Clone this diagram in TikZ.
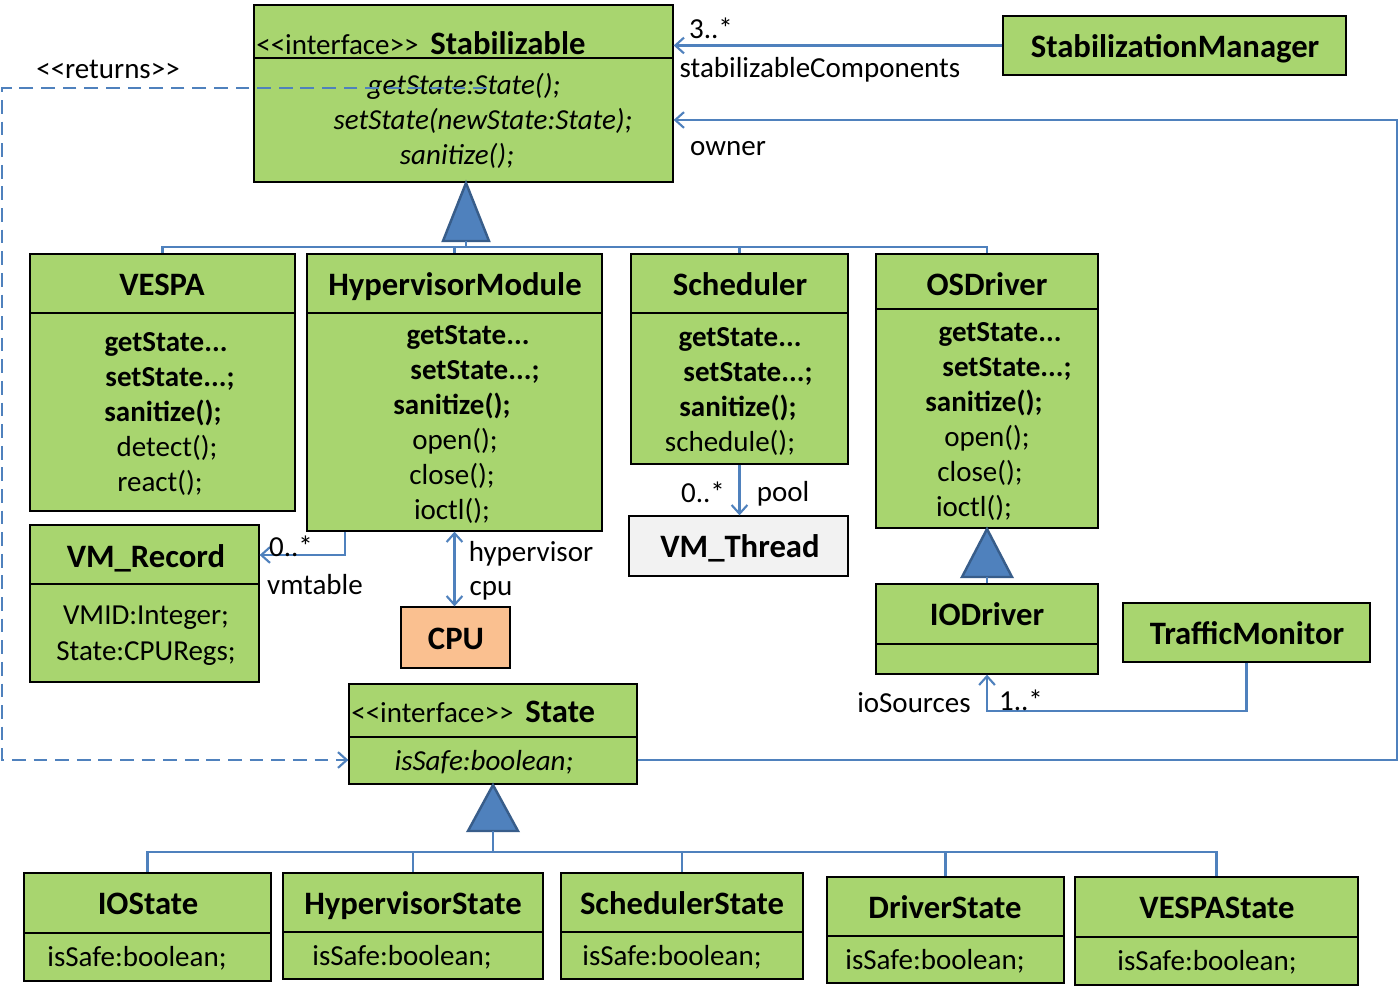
\documentclass[tikz,border=0pt]{standalone}
\usepackage{fontspec}
\setmainfont{Carlito}
\usetikzlibrary{arrows.meta,fit}
\definecolor{ugreen}{RGB}{168,213,111}
\definecolor{ublue}{RGB}{79,129,189}
\definecolor{udark}{RGB}{56,93,138}
\definecolor{uorange}{RGB}{250,192,144}
\definecolor{ugray}{RGB}{242,242,242}
\newcommand\bodyfont{\fontsize{16.5}{19.8}\selectfont}
\newcommand\titlefont{\fontsize{18.6}{22}\selectfont\bfseries}
\newcommand\umlbox[6][]{\node[box,#1,fit={(#3,#4)(#5,#6)}] (#2) {};}
\tikzset{
 box/.style={draw=black, line width=0.75pt, fill=ugreen, inner sep=0pt},
 divline/.style={draw=black, line width=0.75pt},
 body/.style={inner sep=0pt, anchor=base, font=\bodyfont, yshift=-1.1pt},
 bodyb/.style={body, font=\bodyfont\bfseries},
 bodyi/.style={body, font=\bodyfont\itshape},
 ttl/.style={inner sep=0pt, anchor=base, font=\titlefont, yshift=-0.6pt},
 lbl/.style={inner sep=0pt, font=\bodyfont, yshift=-1.3pt},
 conn/.style={draw=ublue, line width=1.2pt},
 assoc/.style={conn, -{Straight Barb[length=5pt,width=9pt]}},
 assocboth/.style={conn, {Straight Barb[length=5pt,width=9pt]}-{Straight Barb[length=5pt,width=9pt]}},
 dassoc/.style={assoc, dash pattern=on 7.8pt off 4.5pt},
 gentri/.style={fill=ublue, draw=udark, line width=1.4pt, line join=miter},
}
\begin{document}
\begin{tikzpicture}[x=0.02cm,y=-0.02cm]
\useasboundingbox (0,0) rectangle (1399,996);
\fill[white] (0,0) rectangle (1399,996);

% ---------- Stabilizable ----------
\umlbox{stab}{254}{5}{673}{182}
\draw[divline] (254,58) -- (673,58);
\node[body, anchor=base west] (stabT) at (256,53) {<{}<interface>{}>\hspace{6.8pt}{\titlefont Stabilizable}};
\node[bodyi] (stabM1) at (464,93) {getState:State();};
\node[bodyi] (stabM2) at (483,128) {setState(newState:State);};
\node[bodyi] (stabM3) at (457,163) {sanitize();};

% ---------- StabilizationManager ----------
\umlbox{mgr}{1003}{16}{1346}{75}
\node[ttl] (mgrT) at (1175,56) {StabilizationManager};

% ---------- VESPA ----------
\umlbox{vespa}{30}{254}{295}{511}
\draw[divline] (30,313) -- (295,313);
\node[ttl] (vespaT) at (162,294) {VESPA};
\node[bodyb] (vespaM1) at (166,350) {getState...};
\node[bodyb] (vespaM2) at (170,385) {setState...;};
\node[bodyb] (vespaM3) at (163,420) {sanitize();};
\node[body] (vespaM4) at (167,455) {detect();};
\node[body] (vespaM5) at (160,490) {react();};

% ---------- HypervisorModule ----------
\umlbox{hyp}{307}{254}{602}{531}
\draw[divline] (307,313) -- (602,313);
\node[ttl] (hypT) at (455,294) {HypervisorModule};
\node[bodyb] (hypM1) at (468,343) {getState...};
\node[bodyb] (hypM2) at (475,378) {setState...;};
\node[bodyb] (hypM3) at (452,413) {sanitize();};
\node[body] (hypM4) at (455,448) {open();};
\node[body] (hypM5) at (452,483) {close();};
\node[body] (hypM6) at (452,518) {ioctl();};

% ---------- Scheduler ----------
\umlbox{sched}{631}{254}{848}{464}
\draw[divline] (631,313) -- (848,313);
\node[ttl] (schedT) at (740,294) {Scheduler};
\node[bodyb] (schedM1) at (740,345) {getState...};
\node[bodyb] (schedM2) at (748,380) {setState...;};
\node[bodyb] (schedM3) at (738,415) {sanitize();};
\node[body] (schedM4) at (730,450) {schedule();};

% ---------- OSDriver ----------
\umlbox{osd}{876}{254}{1098}{528}
\draw[divline] (876,309) -- (1098,309);
\node[ttl] (osdT) at (987,294) {OSDriver};
\node[bodyb] (osdM1) at (1000,340) {getState...};
\node[bodyb] (osdM2) at (1007,375) {setState...;};
\node[bodyb] (osdM3) at (984,410) {sanitize();};
\node[body] (osdM4) at (987,445) {open();};
\node[body] (osdM5) at (980,480) {close();};
\node[body] (osdM6) at (974,515) {ioctl();};

% ---------- VM_Thread ----------
\umlbox[fill=ugray]{vmt}{629}{516}{848}{576}
\node[ttl] (vmtT) at (740,556) {VM\_Thread};

% ---------- VM_Record ----------
\umlbox{vmr}{30}{525}{259}{682}
\draw[divline] (30,584) -- (259,584);
\node[ttl] (vmrT) at (146,566) {VM\_Record};
\node[body] (vmrA1) at (146,623) {VMID:Integer;};
\node[body] (vmrA2) at (146,659) {State:CPURegs;};

% ---------- CPU ----------
\umlbox[fill=uorange]{cpu}{401}{607}{510}{668}
\node[ttl] (cpuT) at (456,648) {CPU};

% ---------- IODriver ----------
\umlbox{iod}{876}{584}{1098}{674}
\draw[divline] (876,644) -- (1098,644);
\node[ttl] (iodT) at (987,624) {IODriver};

% ---------- TrafficMonitor ----------
\umlbox{tm}{1123}{603}{1370}{662}
\node[ttl] (tmT) at (1247,643) {TrafficMonitor};

% ---------- State ----------
\umlbox{state}{349}{684}{637}{784}
\draw[divline] (349,737) -- (637,737);
\node[body, anchor=base west] (stateT) at (351,721) {<{}<interface>{}>\hspace{6.8pt}{\titlefont State}};
\node[bodyi] (stateA) at (484,769) {isSafe:boolean;};

% ---------- bottom state classes ----------
\umlbox{ios}{24}{873}{271}{981}
\draw[divline] (24,933) -- (271,933);
\node[ttl] (iosT) at (148,913) {IOState};
\node[body] (iosA) at (137,965) {isSafe:boolean;};

\umlbox{hys}{283}{873}{543}{979}
\draw[divline] (283,932) -- (543,932);
\node[ttl] (hysT) at (413,913) {HypervisorState};
\node[body] (hysA) at (402,964) {isSafe:boolean;};

\umlbox{scs}{561}{873}{803}{979}
\draw[divline] (561,932) -- (803,932);
\node[ttl] (scsT) at (682,913) {SchedulerState};
\node[body] (scsA) at (672,964) {isSafe:boolean;};

\umlbox{drs}{827}{877}{1064}{983}
\draw[divline] (827,936) -- (1064,936);
\node[ttl] (drsT) at (945,917) {DriverState};
\node[body] (drsA) at (935,968) {isSafe:boolean;};

\umlbox{ves}{1075}{877}{1358}{985}
\draw[divline] (1075,937) -- (1358,937);
\node[ttl] (vesT) at (1217,917) {VESPAState};
\node[body] (vesA) at (1207,969) {isSafe:boolean;};

% ---------- generalizations ----------
\draw[gentri] (466,183) -- (489,241) -- (443,241) -- cycle;
\coordinate (g1) at (466,247);
\draw[conn] (466,241) -- (g1);
\draw[conn] (g1) -| (vespa.north);
\draw[conn] (g1) -| (hyp.north);
\draw[conn] (g1) -| (sched.north);
\draw[conn] (g1) -| (osd.north);

\draw[gentri] (493,785) -- (518,831) -- (468,831) -- cycle;
\coordinate (g2) at (493,852);
\draw[conn] (493,831) -- (g2);
\draw[conn] (g2) -| (ios.north);
\draw[conn] (g2) -| (hys.north);
\draw[conn] (g2) -| (scs.north);
\draw[conn] (g2) -| (drs.north);
\draw[conn] (g2) -| (ves.north);

\draw[gentri] (987,529) -- (1012,577) -- (962,577) -- cycle;
\draw[conn] (iod.north) -- (iod.north |- 0,577);

% ---------- associations ----------
\draw[assoc] (mgr.west) -- (stab.east |- mgr.west);
\node[lbl] (l3) at (711,26) {3..*};
\node[lbl] (lsc) at (820,67) {stabilizableComponents};

\draw[assoc] (state.east |- 0,760) -- (1397,760) |- (stab.east |- 0,120);
\node[lbl] (lowner) at (728,146) {owner};

\coordinate (retStart) at (487,88);
\draw[dassoc] (retStart) -- (2,88) |- (state.west |- 0,760);
\node[lbl] (lret) at (108,67) {<{}<returns>{}>};

\draw[assoc] (hyp.south -| 345,0) -- (345,555) -- (vmr.east |- 0,555);
\node[lbl] (l0a) at (291,544) {0..*};
\node[lbl] (lvmt) at (315,582) {vmtable};

\draw[assocboth] (hyp.south) -- (hyp.south |- cpu.north);
\node[lbl] (lhyp) at (531,551) {hypervisor};
\node[lbl] (lcpu) at (491,589) {cpu};

\draw[assoc] (sched.south) -- (sched.south |- vmt.north);
\node[lbl] (l0b) at (703,490) {0..*};
\node[lbl] (lpool) at (783,491) {pool};

\draw[assoc] (tm.south) -- (tm.south |- 0,711) -| (iod.south);
\node[lbl] (lios) at (914,700) {ioSources};
\node[lbl] (l1) at (1021,698) {1..*};
\end{tikzpicture}
\end{document}
